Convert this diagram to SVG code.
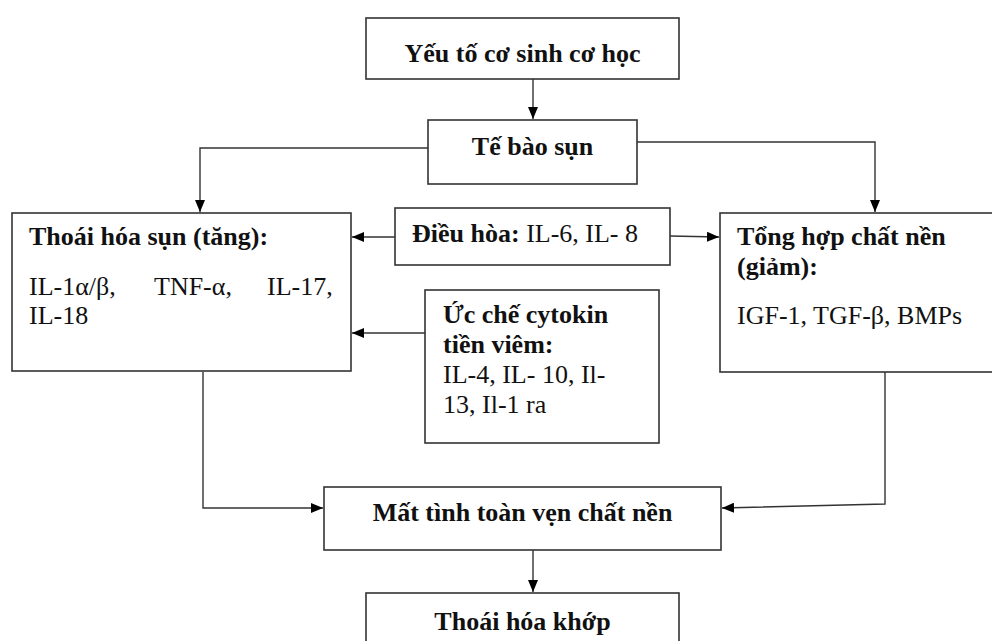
<svg xmlns="http://www.w3.org/2000/svg" width="992" height="641" viewBox="0 0 992 641">
<defs>
<marker id="ah" viewBox="0 0 12 10" refX="12" refY="5" markerWidth="12" markerHeight="10" markerUnits="userSpaceOnUse" orient="auto">
<path d="M0,0 L12,5 L0,10 z" fill="#000"/>
</marker>
<style>
.box{fill:#fff;stroke:#333;stroke-width:1.6}
.t{font-family:"Liberation Serif","Times New Roman",serif;font-size:26px;fill:#111}
.b{font-weight:bold}
.c{text-anchor:middle}
.ln{fill:none;stroke:#333;stroke-width:1.4}
</style>
</defs>
<rect width="992" height="641" fill="#fff"/>

<g id="connectors">
<path class="ln" d="M533,79 V119" marker-end="url(#ah)"/>
<path class="ln" d="M428,148 H200 V212" marker-end="url(#ah)"/>
<path class="ln" d="M637,142 H875 V212" marker-end="url(#ah)"/>
<path class="ln" d="M395,237 H352" marker-end="url(#ah)"/>
<path class="ln" d="M670,236 L719,237" marker-end="url(#ah)"/>
<path class="ln" d="M425,333 H352" marker-end="url(#ah)"/>
<path class="ln" d="M203,372 V508 H323" marker-end="url(#ah)"/>
<path class="ln" d="M885,372 V504 L722,508" marker-end="url(#ah)"/>
<path class="ln" d="M533,550 V592" marker-end="url(#ah)"/>
</g>

<g id="n-yeuto">
<rect class="box" x="366" y="18" width="313" height="61"/>
<text class="t b c" x="522.5" y="62">Yếu tố cơ sinh cơ học</text>
</g>

<g id="n-tebaosun">
<rect class="box" x="428" y="120" width="209" height="64"/>
<text class="t b c" x="532.5" y="155">Tế bào sụn</text>
</g>

<g id="n-thoaihoasun">
<rect class="box" x="12" y="213" width="339" height="158"/>
<text class="t b" x="29" y="245">Thoái hóa sụn (tăng):</text>
<text class="t" y="295"><tspan x="29">IL-1α/β,</tspan><tspan x="154">TNF-α,</tspan><tspan x="267">IL-17,</tspan></text>
<text class="t" x="29" y="324">IL-18</text>
</g>

<g id="n-dieuhoa">
<rect class="box" x="395" y="208" width="275" height="57"/>
<text class="t" x="412" y="242"><tspan class="b">Điều hòa:</tspan> IL-6, IL- 8</text>
</g>

<g id="n-ucche">
<rect class="box" x="425" y="290" width="234" height="153"/>
<text class="t b" x="443" y="323">Ức chế cytokin</text>
<text class="t b" x="443" y="353">tiền viêm:</text>
<text class="t" x="443" y="383">IL-4, IL- 10,  Il-</text>
<text class="t" x="443" y="413">13, Il-1 ra</text>
</g>

<g id="n-tonghop">
<rect class="box" x="720" y="213" width="290" height="159"/>
<text class="t b" x="737" y="245">Tổng hợp chất nền</text>
<text class="t b" x="737" y="275">(giảm):</text>
<text class="t" x="737" y="324">IGF-1, TGF-β, BMPs</text>
</g>

<g id="n-matinh">
<rect class="box" x="324" y="487" width="397" height="63"/>
<text class="t b c" x="522.5" y="521">Mất tình toàn vẹn chất nền</text>
</g>

<g id="n-thoaihoakhop">
<rect class="box" x="366" y="593" width="313" height="70"/>
<text class="t b c" x="522.5" y="630">Thoái hóa khớp</text>
</g>
</svg>
